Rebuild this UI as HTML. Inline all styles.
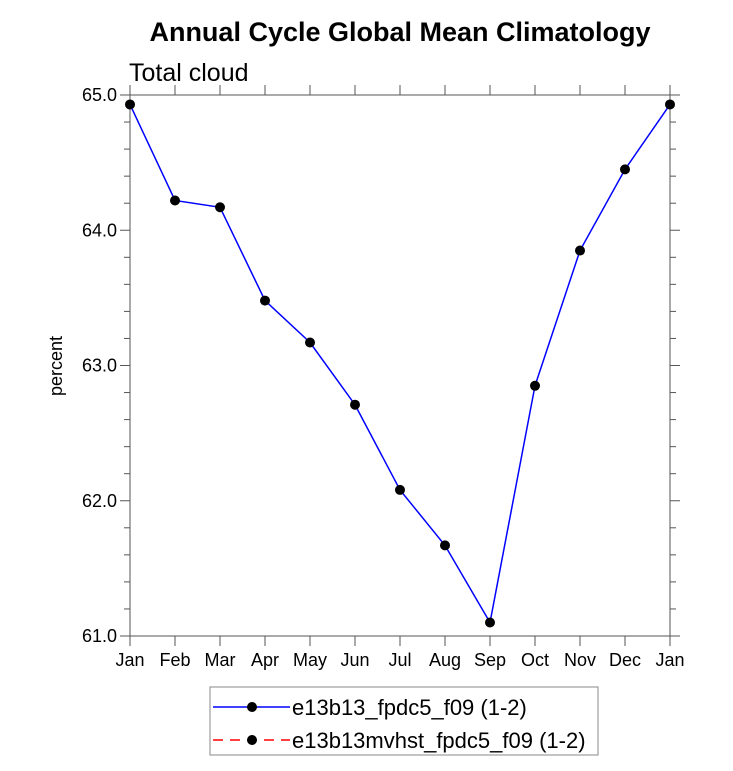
<!DOCTYPE html>
<html><head><meta charset="utf-8"><style>
body{margin:0;background:#fff;}
svg text{font-family:"Liberation Sans",sans-serif;}
</style></head><body>
<svg width="733" height="766">
<text x="400" y="41" font-size="27" font-weight="bold" text-anchor="middle">Annual Cycle Global Mean Climatology</text>
<text x="129" y="81" font-size="25">Total cloud</text>
<text x="62" y="366" font-size="18" text-anchor="middle" transform="rotate(-90 62 366)">percent</text>
<g id="axes"></g>
<g id="series"></g>
<g>
<rect x="210" y="687" width="388" height="68" fill="#fff" stroke="#888"/>
<g>
<line x1="213" y1="707" x2="290" y2="707" stroke="#00f" stroke-width="1.5"/>
<circle cx="252" cy="707" r="5" fill="#000"/>
<text x="292" y="715" font-size="22">e13b13_fpdc5_f09 (1-2)</text></g>
<g>
<line x1="213" y1="740" x2="290" y2="740" stroke="#f00" stroke-width="1.5" stroke-dasharray="10,7"/>
<circle cx="252" cy="740" r="5" fill="#000"/>
<text x="292" y="748" font-size="22">e13b13mvhst_fpdc5_f09 (1-2)</text></g>
</g>
</svg>
<script>
const months=["Jan","Feb","Mar","Apr","May","Jun","Jul","Aug","Sep","Oct","Nov","Dec","Jan"];
const values=[64.93,64.22,64.17,63.48,63.17,62.71,62.08,61.67,61.10,62.85,63.85,64.45,64.93];
const yTicks=[61,62,63,64,65];
const yTickLabels=["61.0","62.0","63.0","64.0","65.0"];
const X0=130,X1=670,Y0=636,Y1=95,YMIN=61,YMAX=65;
const xs=i=>X0+(X1-X0)*i/(months.length-1);
const ys=v=>Y0-(v-YMIN)/(YMAX-YMIN)*(Y0-Y1);
const NS="http://www.w3.org/2000/svg";
const ax=document.getElementById('axes'),se=document.getElementById('series');
function mk(p,tag,a){const e=document.createElementNS(NS,tag);for(const k in a)e.setAttribute(k,a[k]);p.appendChild(e);return e;}
const fr=mk(ax,'rect',{x:X0,y:Y1,width:X1-X0,height:Y0-Y1,fill:'none',stroke:'#555','stroke-width':1});


const c='#555';
months.forEach((m,i)=>{const x=xs(i);
mk(ax,'line',{x1:x,y1:Y0,x2:x,y2:Y0+10,stroke:c});
mk(ax,'line',{x1:x,y1:Y1,x2:x,y2:Y1-10,stroke:c});
const t=mk(ax,'text',{x:x,y:Y0+30,'font-size':18,'text-anchor':'middle'});t.textContent=m;

});
for(let v=YMIN;v<=YMAX+1e-9;v+=0.2){const y=ys(v);const major=Math.abs(v-Math.round(v))<1e-6;const L=major?10:6;
mk(ax,'line',{x1:X0-L,y1:y,x2:X0,y2:y,stroke:c});mk(ax,'line',{x1:X1,y1:y,x2:X1+L,y2:y,stroke:c});}
yTicks.forEach((v,i)=>{const t=mk(ax,'text',{x:X0-13,y:ys(v)+6,'font-size':18,'text-anchor':'end'});t.textContent=yTickLabels[i];

});
const pts=values.map((v,i)=>xs(i)+','+ys(v)).join(' ');
const pl=mk(se,'polyline',{points:pts,fill:'none',stroke:'#00f','stroke-width':1.5});


values.forEach((v,i)=>{const p=mk(se,'circle',{cx:xs(i),cy:ys(v),r:5,fill:'#000'});

});
</script>
</body></html>
